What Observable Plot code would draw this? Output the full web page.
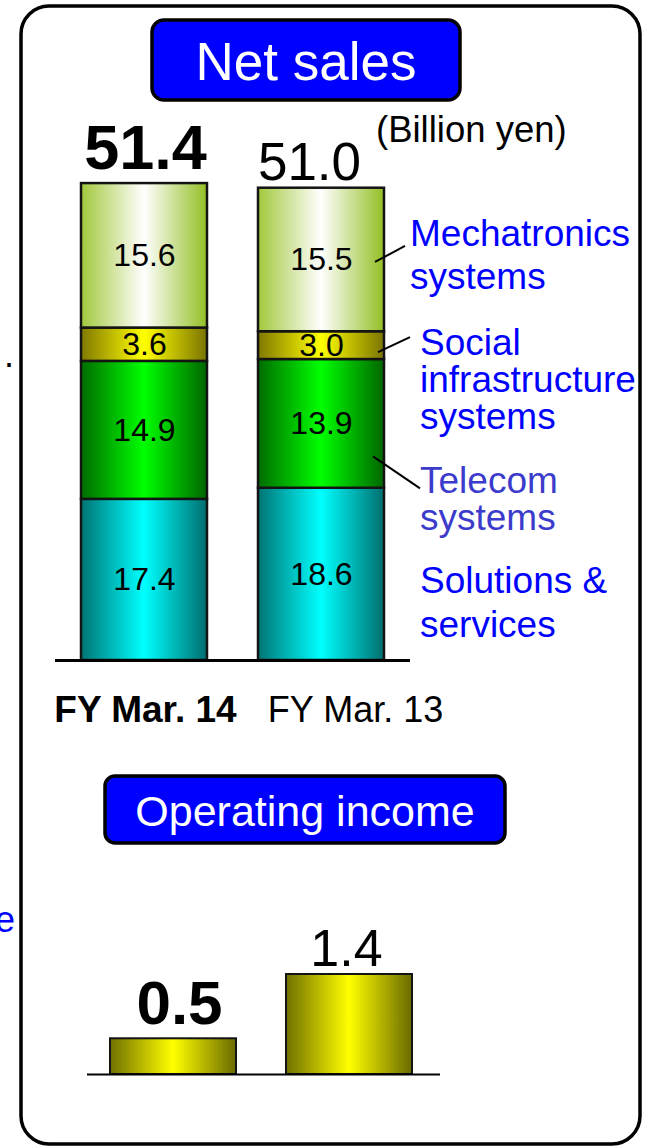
<!DOCTYPE html>
<html><head><meta charset="utf-8">
<script src="https://cdn.jsdelivr.net/npm/d3@7"></script>
<script src="https://cdn.jsdelivr.net/npm/@observablehq/plot@0.6"></script>
<style>
html,body{margin:0;padding:0;background:#fff;}
#page{position:relative;width:647px;height:1148px;overflow:hidden;font-family:"Liberation Sans",Arial,sans-serif;}
#page > svg{position:absolute;left:0;}
</style></head><body>
<div id="page"></div>
<script>
// ---------- data ----------
const years = ["FY Mar. 14", "FY Mar. 13"];
const segments = ["Solutions & services", "Telecom systems", "Social infrastructure systems", "Mechatronics systems"];
const segmentKeys = ["sol", "tel", "soc", "mech"];
const fy14Sales = [17.4, 14.9, 3.6, 15.6];
const fy13Sales = [18.6, 13.9, 3.0, 15.5];
const totalSales = [51.4, 51.0];
const operatingIncome = [0.5, 1.4];
const segmentLabelLines = [["Solutions &", "services"], ["Telecom", "systems"], ["Social", "infrastructure", "systems"], ["Mechatronics", "systems"]];

// ---------- derived tables ----------
const salesByYear = [fy14Sales, fy13Sales];
const salesRows = years.flatMap((yr, i) => segments.map((s, j) => ({year: yr, segment: s, key: segmentKeys[j], value: salesByYear[i][j]})));
const totalRows = years.map((yr, i) => ({year: yr, total: totalSales[i]}));
const opRows = years.map((yr, i) => ({year: yr, value: operatingIncome[i]}));

const font = '"Liberation Sans", Arial, sans-serif';
const page = document.getElementById("page");

// gradient definitions (horizontal cylinder shading)
const gradientColors = {
  mech: ["#a2c83c", "#ffffff", "#93bf24"],
  soc: ["#807800", "#ffff00", "#7a7400"],
  tel: ["#006c00", "#00ff00", "#006600"],
  sol: ["#007474", "#00ffff", "#006e6e"],
  op: ["#707000", "#ffff00", "#6a6a00"]
};
const defsSvg = d3.select(page).append("svg").attr("width", 0).attr("height", 0).style("top", "0px");
const defs = defsSvg.append("defs");
for (const [k, c] of Object.entries(gradientColors)) {
  const g = defs.append("linearGradient").attr("id", "g-" + k).attr("x1", 0).attr("x2", 1).attr("y1", 0).attr("y2", 0);
  g.append("stop").attr("offset", "0%").attr("stop-color", c[0]);
  g.append("stop").attr("offset", "50%").attr("stop-color", c[1]);
  g.append("stop").attr("offset", "100%").attr("stop-color", c[2]);
}

// ---------- net sales stacked bars ----------
const sales = Plot.plot({
  width: 647, height: 760,
  marginLeft: 55, marginRight: 237, marginTop: 0, marginBottom: 100,
  x: {type: "band", domain: years, range: [80, 384], paddingInner: 0.29, paddingOuter: 0, axis: null},
  y: {domain: [0, 51.4], range: [660, 184], axis: null},
  color: {type: "identity"},
  style: {fontFamily: font, background: "transparent", overflow: "visible"},
  marks: [
    Plot.barY(salesRows, {x: "year", y: "value", z: "segment", fill: d => `url(#g-${d.key})`, stroke: "#141414", strokeWidth: 2.5}),
    Plot.text(salesRows, Plot.stackY({x: "year", y: "value", z: "segment", text: d => d.value.toFixed(1), fontSize: 32, fill: "#000"})),
    Plot.ruleY([0], {stroke: "#000", strokeWidth: 3}),
    Plot.text(totalRows.filter(d => d.year === years[0]), {x: "year", y: "total", text: d => d.total.toFixed(1), fontSize: 63, fontWeight: "bold", lineAnchor: "bottom", dy: -16, dx: 1, fill: "#000"}),
    Plot.text(totalRows.filter(d => d.year === years[1]), {x: "year", y: "total", text: d => d.total.toFixed(1), fontSize: 53, lineAnchor: "bottom", dy: -8, dx: -12, fill: "#000"}),
    Plot.text([years[0]], {x: d => d, y: () => 0, text: d => d, fontSize: 37, fontWeight: "bold", lineAnchor: "bottom", dy: 61, dx: 1, fill: "#000"}),
    Plot.text([years[1]], {x: d => d, y: () => 0, text: d => d, fontSize: 36, lineAnchor: "bottom", dy: 61, dx: 34, fill: "#000"})
  ]
});
sales.style.top = "0px";
page.appendChild(sales);

// leader lines from the FY Mar. 13 bar segments to the segment names
{
  const sx = sales.scale("x"), sy = sales.scale("y");
  const right = sx.apply(years[1]) + sx.bandwidth;
  let cum = 0;
  const mids = fy13Sales.map(v => { const m = cum + v / 2; cum += v; return sy.apply(m); });
  const leaders = [
    {seg: 3, dx0: -9, dy0: 2.5, dx1: 21, dy1: -13.5},
    {seg: 2, dx0: -6, dy0: 7, dx1: 26, dy1: -8},
    {seg: 1, dx0: -11, dy0: 33, dx1: 36, dy1: 65}
  ];
  const s = d3.select(sales);
  for (const L of leaders) {
    s.append("line")
      .attr("x1", right + L.dx0).attr("y1", mids[L.seg] + L.dy0)
      .attr("x2", right + L.dx1).attr("y2", mids[L.seg] + L.dy1)
      .attr("stroke", "#000").attr("stroke-width", 2);
  }
}

// ---------- operating income bars ----------
const op = Plot.plot({
  width: 647, height: 220,
  marginLeft: 87, marginRight: 207, marginTop: 0, marginBottom: 0,
  x: {type: "band", domain: years, range: [110, 413], paddingInner: 0.283, paddingOuter: 0, axis: null},
  y: {domain: [0, 1.4], range: [194, 94], axis: null},
  style: {fontFamily: font, background: "transparent", overflow: "visible"},
  marks: [
    Plot.barY(opRows, {x: "year", y: "value", fill: "url(#g-op)", stroke: "#141414", strokeWidth: 2}),
    Plot.ruleY([0], {stroke: "#000", strokeWidth: 2}),
    Plot.text(opRows.filter(d => d.year === years[0]), {x: "year", y: "value", text: d => d.value.toFixed(1), fontSize: 62, fontWeight: "bold", lineAnchor: "bottom", dy: -15, dx: 6, fill: "#000"}),
    Plot.text(opRows.filter(d => d.year === years[1]), {x: "year", y: "value", text: d => d.value.toFixed(1), fontSize: 52, lineAnchor: "bottom", dy: -9, dx: -3, fill: "#000"})
  ]
});
op.style.top = "880px";
page.appendChild(op);

// ---------- frame, headings, labels ----------
const ov = d3.select(page).append("svg").attr("width", 647).attr("height", 1148).style("top", "0px")
  .style("font-family", font);
ov.append("rect").attr("x", 21).attr("y", 6).attr("width", 619).attr("height", 1138).attr("rx", 28)
  .attr("fill", "none").attr("stroke", "#000").attr("stroke-width", 3.5);
ov.append("rect").attr("x", 152).attr("y", 20).attr("width", 308).attr("height", 80).attr("rx", 12)
  .attr("fill", "#0000ff").attr("stroke", "#000").attr("stroke-width", 3.5);
ov.append("text").attr("x", 306).attr("y", 80).attr("text-anchor", "middle").attr("font-size", 53).attr("fill", "#fff").text("Net sales");
ov.append("rect").attr("x", 105).attr("y", 776).attr("width", 400).attr("height", 67).attr("rx", 10)
  .attr("fill", "#0000ff").attr("stroke", "#000").attr("stroke-width", 3.5);
ov.append("text").attr("x", 305).attr("y", 826).attr("text-anchor", "middle").attr("font-size", 43).attr("fill", "#fff").text("Operating income");
ov.append("text").attr("x", 376).attr("y", 142).attr("font-size", 36.5).attr("fill", "#000").text("(Billion yen)");

const labelPos = [
  {x: 420, y: [593, 637], color: "#0000ff"},
  {x: 420, y: [493, 530], color: "#3b3bcc"},
  {x: 420, y: [355, 392, 429], color: "#0000ff"},
  {x: 410, y: [246, 289], color: "#0000ff"}
];
segmentLabelLines.forEach((lines, j) => {
  const p = labelPos[j];
  lines.forEach((t, k) => {
    ov.append("text").attr("x", p.x).attr("y", p.y[k]).attr("font-size", 37).attr("fill", p.color).text(t);
  });
});
// slide-crop remnants at the left edge
ov.append("text").attr("x", 4).attr("y", 367).attr("font-size", 36).attr("fill", "#000").text(".");
ov.append("text").attr("x", -5).attr("y", 932).attr("font-size", 36).attr("fill", "#0000ff").text("e");
</script>
</body></html>
